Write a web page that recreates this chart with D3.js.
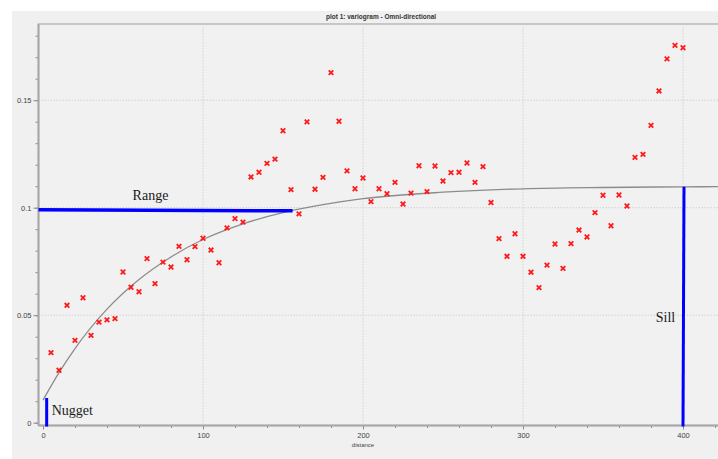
<!DOCTYPE html>
<html>
<head>
<meta charset="utf-8">
<script src="https://cdn.jsdelivr.net/npm/d3@7"></script>
<style>
  body { margin: 0; background: #fff; }
  svg { display: block; }
</style>
</head>
<body>
<div id="chart"></div>
<script>
const lags = d3.range(5, 401, 5);
const gamma = [
  0.0326, 0.0244, 0.0546, 0.0383, 0.0581, 0.0406, 0.0468, 0.0478, 0.0484, 0.0701,
  0.0630, 0.0609, 0.0763, 0.0647, 0.0747, 0.0724, 0.0820, 0.0758, 0.0819, 0.0858,
  0.0803, 0.0744, 0.0906, 0.0949, 0.0933, 0.1143, 0.1165, 0.1206, 0.1226, 0.1358,
  0.1084, 0.0971, 0.1399, 0.1086, 0.1141, 0.1628, 0.1402, 0.1171, 0.1088, 0.1138,
  0.1028, 0.1088, 0.1065, 0.1118, 0.1017, 0.1068, 0.1195, 0.1075, 0.1194, 0.1124,
  0.1163, 0.1165, 0.1208, 0.1118, 0.1191, 0.1024, 0.0856, 0.0774, 0.0879, 0.0774,
  0.0700, 0.0628, 0.0733, 0.0831, 0.0718, 0.0833, 0.0896, 0.0864, 0.0977, 0.1058,
  0.0916, 0.1059, 0.1008, 0.1234, 0.1248, 0.1383, 0.1543, 0.1692, 0.1755, 0.1744
];

// fitted model line, read at a few distances
const modelDist = [0, 10, 20, 40, 60, 80, 100, 125, 150, 175, 200, 250, 300, 350, 400, 425];
const modelGamma = [0.0105, 0.0233, 0.0345, 0.0528, 0.0666, 0.0771, 0.0852, 0.0925, 0.0977, 0.1014,
  0.1042, 0.1072, 0.1088, 0.1094, 0.1097, 0.1098];

// annotations: nugget, range, sill
const nugget = { dist: 2.3, value: 0.0115 };
const range = { dist: 156, value: 0.099 };
const sill = { dist: 400, value: 0.1097 };

const xTicks = [0, 100, 200, 300, 400];
const yTicks = [0, 0.05, 0.1, 0.15];

const W = 718, H = 459;
const plot = { left: 38.5, top: 24, right: 718, bottom: 425.5 };

const x = d3.scaleLinear().domain([0, 400]).range([43, 683]);
const y = d3.scaleLinear().domain([0, 0.15]).range([422.7, 100.2]);

const svg = d3.select("#chart").append("svg")
  .attr("width", W)
  .attr("height", H)
  .attr("viewBox", `0 0 ${W} ${H}`);

// outer panel
svg.append("rect")
  .attr("x", 12).attr("y", 11)
  .attr("width", W - 12).attr("height", H - 11)
  .attr("fill", "#f0f0f0");

svg.append("text")
  .attr("x", 381).attr("y", 19)
  .attr("text-anchor", "middle")
  .attr("font-family", "Liberation Sans, Arial, sans-serif")
  .attr("font-size", 6.5)
  .attr("font-weight", "bold")
  .attr("fill", "#333")
  .text("plot 1:  variogram - Omni-directional");

svg.append("rect")
  .attr("x", plot.left).attr("y", plot.top)
  .attr("width", plot.right - plot.left + 5)
  .attr("height", plot.bottom - plot.top)
  .attr("fill", "#f1f1f1")
  .attr("stroke", "#b8b8b8")
  .attr("stroke-width", 1.5);

svg.append("clipPath").attr("id", "clip")
  .append("rect")
  .attr("x", plot.left).attr("y", plot.top)
  .attr("width", plot.right - plot.left)
  .attr("height", plot.bottom - plot.top);

// grid
const grid = svg.append("g").attr("stroke", "#d2d2d2").attr("stroke-dasharray", "1.5,1.5");
grid.selectAll("line.gx")
  .data(xTicks.filter(d => d > 0))
  .enter().append("line")
  .attr("x1", d => x(d)).attr("x2", d => x(d))
  .attr("y1", plot.top).attr("y2", plot.bottom);
grid.selectAll("line.gy")
  .data(yTicks.filter(d => d > 0))
  .enter().append("line")
  .attr("y1", d => y(d)).attr("y2", d => y(d))
  .attr("x1", plot.left).attr("x2", plot.right);

// axes
const tickFont = "Liberation Sans, Arial, sans-serif";

const xMinor = svg.append("g")
  .attr("transform", `translate(0,${plot.bottom})`)
  .call(d3.axisBottom(x).tickValues(d3.range(0, 421, 20)).tickSize(2.5).tickFormat(""));
const xAxis = svg.append("g")
  .attr("transform", `translate(0,${plot.bottom})`)
  .call(d3.axisBottom(x).tickValues(xTicks).tickSize(4).tickPadding(3));

const yMinor = svg.append("g")
  .attr("transform", `translate(${plot.left},0)`)
  .call(d3.axisLeft(y).tickValues(d3.range(0, 0.181, 0.01)).tickSize(3).tickFormat(""));
const yAxis = svg.append("g")
  .attr("transform", `translate(${plot.left},0)`)
  .call(d3.axisLeft(y).tickValues(yTicks).tickSize(5).tickPadding(2).tickFormat(d3.format("")));

[xMinor, xAxis, yMinor, yAxis].forEach(a => {
  a.select(".domain").remove();
  a.selectAll(".tick line").attr("stroke", "#8a8a8a");
  a.selectAll(".tick text")
    .attr("font-family", tickFont)
    .attr("font-size", 7.5)
    .attr("fill", "#444");
});

svg.append("line")
  .attr("x1", plot.left).attr("x2", plot.right)
  .attr("y1", plot.bottom).attr("y2", plot.bottom)
  .attr("stroke", "#a8a8a8").attr("stroke-width", 2);
svg.append("line")
  .attr("x1", plot.left).attr("x2", plot.left)
  .attr("y1", plot.top).attr("y2", plot.bottom)
  .attr("stroke", "#a8a8a8").attr("stroke-width", 2);

svg.append("text")
  .attr("x", x(200)).attr("y", 447)
  .attr("text-anchor", "middle")
  .attr("font-family", tickFont)
  .attr("font-size", 6)
  .attr("fill", "#444")
  .text("distance");

const g = svg.append("g").attr("clip-path", "url(#clip)");

// model curve
const line = d3.line()
  .x((d, i) => x(d))
  .y((d, i) => y(modelGamma[i]))
  .curve(d3.curveMonotoneX);

g.append("path")
  .attr("d", line(modelDist))
  .attr("fill", "none")
  .attr("stroke", "#8c8c8c")
  .attr("stroke-width", 1.3);

// experimental points
g.selectAll("path.pt")
  .data(lags)
  .enter().append("path")
  .attr("class", "pt")
  .attr("transform", (d, i) => `translate(${x(d)},${y(gamma[i])})`)
  .attr("d", "M-2.3,-2.3L2.3,2.3M-2.3,2.3L2.3,-2.3")
  .attr("stroke", "#ff1a1a")
  .attr("stroke-width", 1.8);

// annotations
const blue = "#0000ff";
svg.append("line")
  .attr("x1", plot.left).attr("x2", x(range.dist))
  .attr("y1", y(range.value)).attr("y2", y(range.value) + 1)
  .attr("stroke", blue).attr("stroke-width", 3.5);

svg.append("line")
  .attr("x1", x(nugget.dist)).attr("x2", x(nugget.dist))
  .attr("y1", y(nugget.value)).attr("y2", plot.bottom + 1)
  .attr("stroke", blue).attr("stroke-width", 3);

svg.append("line")
  .attr("x1", x(sill.dist) + 1).attr("x2", x(sill.dist))
  .attr("y1", y(sill.value)).attr("y2", plot.bottom + 1)
  .attr("stroke", blue).attr("stroke-width", 3);

const serif = "Liberation Serif, Times New Roman, serif";
const labels = [
  { text: "Range", dist: 56, value: 0.1036 },
  { text: "Nugget", dist: 5.4, value: 0.0034 },
  { text: "Sill", dist: 383, value: 0.0467 }
];
svg.selectAll("text.ann")
  .data(labels)
  .enter().append("text")
  .attr("class", "ann")
  .attr("x", d => x(d.dist))
  .attr("y", d => y(d.value))
  .attr("font-family", serif)
  .attr("font-size", 14)
  .attr("fill", "#1a1a1a")
  .text(d => d.text);
</script>
</body>
</html>
